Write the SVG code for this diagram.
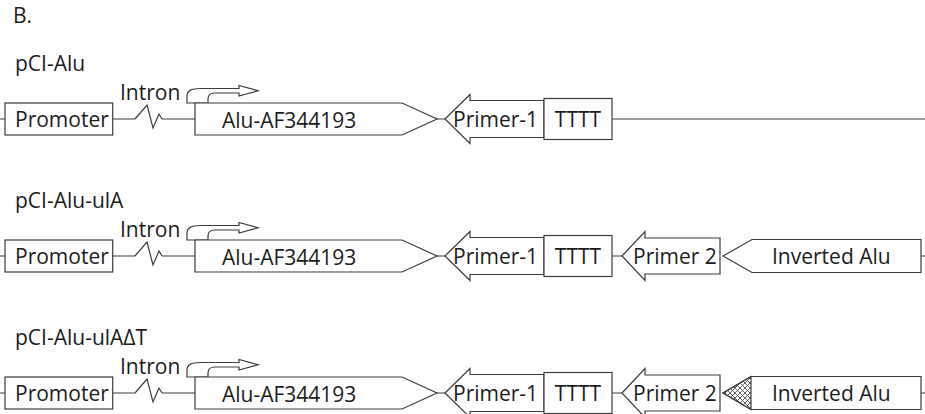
<svg xmlns="http://www.w3.org/2000/svg" width="925" height="414" viewBox="0 0 925 414">
  <style>
    .t { font-family: "Open Sans", "Liberation Sans", sans-serif; font-size: 21px; fill: #1c1c1c; }
    .mid { text-anchor: middle; }
    .box { fill: #ffffff; stroke: #3c3c3c; stroke-width: 1.2; stroke-linejoin: miter; }
    .ln { fill: none; stroke: #3c3c3c; stroke-width: 1.2; }
  </style>
  <defs>
    <!-- cross-hatch fill for the deleted T stretch -->
    <pattern id="xhatch" width="5" height="5" patternUnits="userSpaceOnUse">
      <path d="M0,0 L5,5 M5,0 L0,5" stroke="#3c3c3c" stroke-width="0.8" fill="none"/>
    </pattern>
  </defs>
  <rect width="925" height="414" fill="#ffffff"/>

  <text class="t" x="13" y="23">B.</text>

  <!-- construct titles -->
  <text class="t" x="15" y="71">pCI-Alu</text>
  <text class="t" x="15" y="208">pCI-Alu-ulA</text>
  <text class="t" x="15" y="345">pCI-Alu-ulAΔT</text>

  <!-- backbone lines between elements -->
  <g id="connectors" class="ln">
    <!-- pCI-Alu -->
    <path d="M0,119 H5 M112.7,119 H135 M162,119 H195 M437,119 H445 M612,119 H925"/>
    <!-- pCI-Alu-ulA -->
    <path d="M0,256 H5 M112.7,256 H135 M162,256 H195 M437,256 H445 M612,256 H622 M921,256 H925"/>
    <!-- pCI-Alu-ulAΔT -->
    <path d="M0,393 H5 M112.7,393 H135 M162,393 H195 M437,393 H445 M612,393 H622 M921,393 H925"/>
  </g>

  <!-- ===== pCI-Alu ===== -->
  <g id="r1-promoter" transform="translate(0,119)">
    <rect class="box" x="5" y="-16" width="107.7" height="32"/>
    <text class="t" x="15" y="8">Promoter</text>
  </g>
  <g id="r1-intron" transform="translate(0,119)">
    <path class="ln" d="M135,0 L147,-14 L153,9 L159,-5 L162,0"/>
    <text class="t" x="120" y="-19">Intron</text>
  </g>
  <g id="r1-start" transform="translate(0,119)">
    <path class="box" d="M187,-16 L187,-23 C187,-29 192,-30.5 200,-30.5 L239,-30.5 L239,-33.5 L258,-28.2 L239,-23 L239,-26 L215,-26 C210,-26 208,-24 208,-20 L208,-16 Z"/>
  </g>
  <g id="r1-alu" transform="translate(0,119)">
    <polygon class="box" points="195,-16 402,-16 437,0 402,16 195,16"/>
    <text class="t" x="222" y="8.5">Alu-AF344193</text>
  </g>
  <g id="r1-primer1" transform="translate(0,119)">
    <polygon class="box" points="445,0 470,-24.5 470,-18.5 544,-18.5 544,18.5 470,18.5 470,24.5"/>
    <text class="t" x="453" y="8">Primer-1</text>
  </g>
  <g id="r1-tttt" transform="translate(0,119)">
    <rect class="box" x="544" y="-20.5" width="68" height="41"/>
    <text class="t mid" x="578" y="8">TTTT</text>
  </g>

  <!-- ===== pCI-Alu-ulA ===== -->
  <g id="r2-promoter" transform="translate(0,256)">
    <rect class="box" x="5" y="-16" width="107.7" height="32"/>
    <text class="t" x="15" y="8">Promoter</text>
  </g>
  <g id="r2-intron" transform="translate(0,256)">
    <path class="ln" d="M135,0 L147,-14 L153,9 L159,-5 L162,0"/>
    <text class="t" x="120" y="-19">Intron</text>
  </g>
  <g id="r2-start" transform="translate(0,256)">
    <path class="box" d="M187,-16 L187,-23 C187,-29 192,-30.5 200,-30.5 L239,-30.5 L239,-33.5 L258,-28.2 L239,-23 L239,-26 L215,-26 C210,-26 208,-24 208,-20 L208,-16 Z"/>
  </g>
  <g id="r2-alu" transform="translate(0,256)">
    <polygon class="box" points="195,-16 402,-16 437,0 402,16 195,16"/>
    <text class="t" x="222" y="8.5">Alu-AF344193</text>
  </g>
  <g id="r2-primer1" transform="translate(0,256)">
    <polygon class="box" points="445,0 470,-24.5 470,-18.5 544,-18.5 544,18.5 470,18.5 470,24.5"/>
    <text class="t" x="453" y="8">Primer-1</text>
  </g>
  <g id="r2-tttt" transform="translate(0,256)">
    <rect class="box" x="544" y="-20.5" width="68" height="41"/>
    <text class="t mid" x="578" y="8">TTTT</text>
  </g>
  <g id="r2-primer2" transform="translate(0,256)">
    <polygon class="box" points="622,0 645,-24.5 645,-18 720,-18 720,18 645,18 645,24.5"/>
    <text class="t" x="633" y="8">Primer 2</text>
  </g>
  <g id="r2-inverted-alu" transform="translate(0,256)">
    <polygon class="box" points="723,0 752,-16.5 921,-16.5 921,16.5 752,16.5"/>
    <text class="t" x="772" y="8">Inverted Alu</text>
  </g>

  <!-- ===== pCI-Alu-ulAΔT ===== -->
  <g id="r3-promoter" transform="translate(0,393)">
    <rect class="box" x="5" y="-16" width="107.7" height="32"/>
    <text class="t" x="15" y="8">Promoter</text>
  </g>
  <g id="r3-intron" transform="translate(0,393)">
    <path class="ln" d="M135,0 L147,-14 L153,9 L159,-5 L162,0"/>
    <text class="t" x="120" y="-19">Intron</text>
  </g>
  <g id="r3-start" transform="translate(0,393)">
    <path class="box" d="M187,-16 L187,-23 C187,-29 192,-30.5 200,-30.5 L239,-30.5 L239,-33.5 L258,-28.2 L239,-23 L239,-26 L215,-26 C210,-26 208,-24 208,-20 L208,-16 Z"/>
  </g>
  <g id="r3-alu" transform="translate(0,393)">
    <polygon class="box" points="195,-16 402,-16 437,0 402,16 195,16"/>
    <text class="t" x="222" y="8.5">Alu-AF344193</text>
  </g>
  <g id="r3-primer1" transform="translate(0,393)">
    <polygon class="box" points="445,0 470,-24.5 470,-18.5 544,-18.5 544,18.5 470,18.5 470,24.5"/>
    <text class="t" x="453" y="8">Primer-1</text>
  </g>
  <g id="r3-tttt" transform="translate(0,393)">
    <rect class="box" x="544" y="-20.5" width="68" height="41"/>
    <text class="t mid" x="578" y="8">TTTT</text>
  </g>
  <g id="r3-primer2" transform="translate(0,393)">
    <polygon class="box" points="622,0 645,-24.5 645,-18 720,-18 720,18 645,18 645,24.5"/>
    <text class="t" x="633" y="8">Primer 2</text>
  </g>
  <g id="r3-inverted-alu" transform="translate(0,393)">
    <polygon class="box" points="723,0 751,-16.5 921,-16.5 921,16.5 751,16.5"/>
    <polygon points="723,0 751,-16.5 751,16.5" fill="url(#xhatch)" stroke="#3c3c3c" stroke-width="1.2"/>
    <text class="t" x="772" y="8">Inverted Alu</text>
  </g>
</svg>
